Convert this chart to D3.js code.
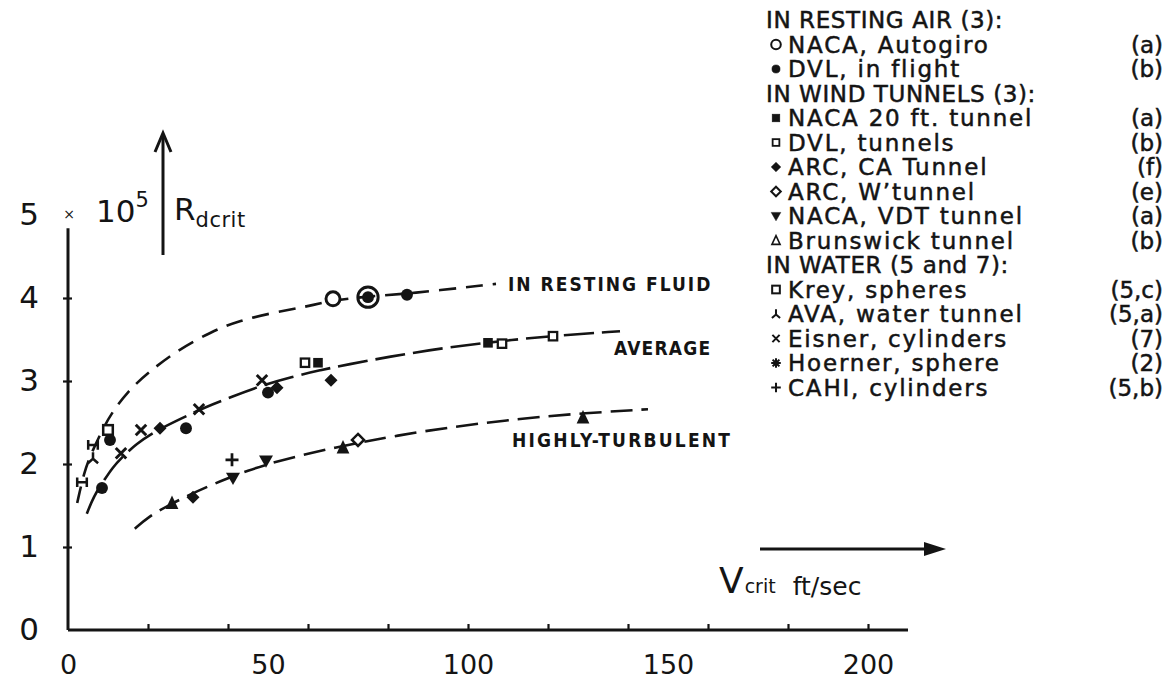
<!DOCTYPE html>
<html>
<head>
<meta charset="utf-8">
<script src="https://cdn.jsdelivr.net/npm/d3@7"></script>
<style>
  body { margin: 0; background: #fff; }
  svg { display: block; }
</style>
</head>
<body>
<svg id="chart" width="1174" height="681"></svg>
<script>
// ---- axis ticks and labels ----
const xTickValues = [20, 40, 60, 80, 100, 120, 140, 160, 180, 200];
const xLabelValues = [0, 50, 100, 150, 200];
const yTickValues = [1, 2, 3, 4];
const yLabelValues = [0, 1, 2, 3, 4, 5];

// ---- fitted curves: [V crit (ft/sec), R dcrit (x 10^5)] ----
const restingFluidCurve = [[2.3,1.53],[4,1.9],[6,2.15],[9,2.45],[11,2.62],[15,2.88],[20,3.1],[27,3.36],[36,3.6],[43,3.73],[51,3.82],[59,3.89],[66,3.97],[75,4.02],[85,4.05],[107,4.17]];
const averageCurve = [[4.7,1.4],[6.5,1.62],[9,1.8],[11,1.95],[13.5,2.08],[17,2.24],[22,2.4],[28,2.54],[34,2.68],[41,2.81],[48,2.94],[56,3.05],[63,3.13],[70,3.2],[80,3.29],[94,3.4],[108,3.48],[120,3.54],[138,3.6]];
const turbulentCurve = [[16.7,1.22],[20,1.36],[25,1.5],[30,1.62],[35,1.73],[40,1.83],[45,1.92],[50,2.0],[57,2.09],[65,2.18],[72,2.25],[82,2.34],[95,2.44],[110,2.53],[125,2.6],[145,2.66]];

// ---- measurements ----
// in resting air
const nacaAutogiro = [[66.25,3.99],[75,4.01]];
const dvlFlight = [[75,4.01],[84.75,4.04],[8.5,1.71],[10.5,2.29],[29.5,2.43],[50,2.86]];
// in wind tunnels
const naca20ft = [[62.5,3.22],[105,3.46]];
const dvlTunnels = [[59.25,3.22],[108.5,3.45],[121.25,3.54]];
const arcCA = [[23,2.43],[52.25,2.92],[65.75,3.01],[31.25,1.6]];
const arcW = [[72.5,2.29]];
const nacaVDT = [[41.25,1.83],[49.5,2.04]];
const brunswick = [[26,1.53],[68.75,2.2],[128.75,2.56]];
// in water
const krey = [[10,2.41]];
const ava = [[3.5,1.78],[6.25,2.23]];
const eisner = [[13.25,2.13],[18.25,2.41],[32.75,2.66],[48.5,3.01]];
const hoerner = [[6.25,2.07]];
const cahi = [[41,2.05]];

// ---- legend rows: [symbol, name, reference] ----
const legendRows = [
  [null, "IN RESTING AIR (3):", ""],
  ["ring", "NACA, Autogiro", "(a)"],
  ["dot", "DVL, in flight", "(b)"],
  [null, "IN WIND TUNNELS (3):", ""],
  ["square", "NACA 20 ft. tunnel", "(a)"],
  ["smallBox", "DVL, tunnels", "(b)"],
  ["diamond", "ARC, CA Tunnel", "(f)"],
  ["diamondOpen", "ARC, W\u2019tunnel", "(e)"],
  ["triDown", "NACA, VDT tunnel", "(a)"],
  ["triUpOpen", "Brunswick tunnel", "(b)"],
  [null, "IN WATER (5 and 7):", ""],
  ["box", "Krey, spheres", "(5,c)"],
  ["ava", "AVA, water tunnel", "(5,a)"],
  ["cross", "Eisner, cylinders", "(7)"],
  ["star", "Hoerner, sphere", "(2)"],
  ["plus", "CAHI, cylinders", "(5,b)"]
];

const ink = "#141414";
const svg = d3.select("#chart");

const x = d3.scaleLinear().domain([0, 200]).range([68, 868]);
const y = d3.scaleLinear().domain([0, 5]).range([630, 215]);

// ---- symbol drawing ----
function drawGlyph(g, shape, s) {
  const sw = Math.max(1.8, s * 0.42);
  switch (shape) {
    case "ring":
      g.append("circle").attr("r", s).attr("fill", "#fff").attr("stroke", ink).attr("stroke-width", sw); break;
    case "bigRing":
      g.append("circle").attr("r", s * 1.45).attr("fill", "none").attr("stroke", ink).attr("stroke-width", sw); break;
    case "dot":
      g.append("circle").attr("r", s * 0.85).attr("fill", ink); break;
    case "square":
      g.append("rect").attr("x", -s * 0.8).attr("y", -s * 0.8).attr("width", s * 1.6).attr("height", s * 1.6).attr("fill", ink); break;
    case "smallBox":
      g.append("rect").attr("x", -s * 0.7).attr("y", -s * 0.7).attr("width", s * 1.4).attr("height", s * 1.4).attr("fill", "#fff").attr("stroke", ink).attr("stroke-width", sw * 0.9); break;
    case "box":
      g.append("rect").attr("x", -s * 0.8).attr("y", -s * 0.8).attr("width", s * 1.6).attr("height", s * 1.6).attr("fill", "#fff").attr("stroke", ink).attr("stroke-width", sw); break;
    case "diamond":
      g.append("path").attr("d", `M0,${-s}L${s},0L0,${s}L${-s},0Z`).attr("fill", ink); break;
    case "diamondOpen":
      g.append("path").attr("d", `M0,${-s}L${s},0L0,${s}L${-s},0Z`).attr("fill", "#fff").attr("stroke", ink).attr("stroke-width", sw); break;
    case "triDown":
      g.append("path").attr("d", `M${-s},${-s * 0.75}L${s},${-s * 0.75}L0,${s}Z`).attr("fill", ink); break;
    case "triUp":
      g.append("path").attr("d", `M${-s * 0.85},${s * 0.8}L${s * 0.85},${s * 0.8}L0,${-s}Z`).attr("fill", ink); break;
    case "triUpOpen":
      g.append("path").attr("d", `M${-s * 0.85},${s * 0.8}L${s * 0.85},${s * 0.8}L0,${-s}Z`).attr("fill", "none").attr("stroke", ink).attr("stroke-width", sw * 0.8); break;
    case "cross":
      g.append("path").attr("d", `M${-s * 0.75},${-s * 0.75}L${s * 0.75},${s * 0.75}M${s * 0.75},${-s * 0.75}L${-s * 0.75},${s * 0.75}`).attr("stroke", ink).attr("stroke-width", sw).attr("fill", "none"); break;
    case "plus":
      g.append("path").attr("d", `M${-s},0H${s}M0,${-s}V${s}`).attr("stroke", ink).attr("stroke-width", sw).attr("fill", "none"); break;
    case "star": {
      let d = "";
      for (let k = 0; k < 8; k++) {
        const a = k * Math.PI / 4;
        d += `M0,0L${(s * Math.cos(a)).toFixed(2)},${(s * Math.sin(a)).toFixed(2)}`;
      }
      g.append("path").attr("d", d).attr("stroke", ink).attr("stroke-width", sw).attr("fill", "none");
      g.append("circle").attr("r", s * 0.45).attr("fill", ink);
      break;
    }
    case "ibeam":
      g.append("path").attr("d", `M${-s * 0.8},${-s * 0.8}V${s * 0.8}M${s * 0.8},${-s * 0.8}V${s * 0.8}M${-s * 0.8},0H${s * 0.8}`).attr("stroke", ink).attr("stroke-width", sw).attr("fill", "none"); break;
    case "ava":
      g.append("path").attr("d", `M0,${-s}V${s * 0.1}L${-s * 0.85},${s * 0.85}M0,${s * 0.1}L${s * 0.85},${s * 0.85}`).attr("stroke", ink).attr("stroke-width", sw).attr("fill", "none"); break;
  }
}

// ---- axes ----
const xTicks = svg.append("g").attr("transform", `translate(0,${y(0)})`)
  .call(d3.axisBottom(x).tickValues(xTickValues).tickSize(-6).tickFormat(""));
xTicks.select(".domain").remove();
xTicks.selectAll("line").attr("stroke", ink).attr("stroke-width", 2.2);

const xLabels = svg.append("g").attr("transform", `translate(0,${y(0)})`)
  .call(d3.axisBottom(x).tickValues(xLabelValues).tickSize(0).tickFormat(d3.format("d")));
xLabels.select(".domain").remove();
xLabels.selectAll("text").attr("y", 34).attr("dy", "0.36em")
  .attr("font-family", "DejaVu Sans").attr("font-size", 27).attr("fill", ink);

const yTicks = svg.append("g").attr("transform", `translate(${x(0) + 4},0)`)
  .call(d3.axisLeft(y).tickValues(yTickValues).tickSize(9).tickFormat(""));
yTicks.select(".domain").remove();
yTicks.selectAll("line").attr("stroke", ink).attr("stroke-width", 2.2);

const yLabels = svg.append("g").attr("transform", `translate(${x(0)},0)`)
  .call(d3.axisLeft(y).tickValues(yLabelValues).tickSize(0).tickFormat(d3.format("d")));
yLabels.select(".domain").remove();
yLabels.selectAll("text").attr("x", -39).attr("dy", "0.32em").attr("text-anchor", "middle")
  .attr("font-family", "DejaVu Sans").attr("font-size", 31).attr("fill", ink);

// axis lines
svg.append("line").attr("x1", x(0)).attr("x2", x(0)).attr("y1", y(0)).attr("y2", y(4.84))
  .attr("stroke", ink).attr("stroke-width", 3);
svg.append("line").attr("x1", x(0)).attr("x2", x(210)).attr("y1", y(0)).attr("y2", y(0))
  .attr("stroke", ink).attr("stroke-width", 3);

// ---- axis titles ----
const titleFont = "DejaVu Sans";
svg.append("text").attr("x", x(0) + 1).attr("y", y(5) + 4).attr("text-anchor", "middle")
  .attr("font-family", titleFont).attr("font-size", 14).attr("fill", ink).text("\u00d7");
const tenPow = svg.append("text").attr("x", 96).attr("y", 222).attr("font-family", titleFont).attr("fill", ink);
tenPow.append("tspan").attr("font-size", 31).text("10");
tenPow.append("tspan").attr("font-size", 21).attr("dy", -15).text("5");

// up arrow for R
svg.append("line").attr("x1", 163).attr("x2", 163).attr("y1", 255).attr("y2", 135)
  .attr("stroke", ink).attr("stroke-width", 3);
svg.append("path").attr("d", "M155,152L163,133L171,152").attr("fill", "none")
  .attr("stroke", ink).attr("stroke-width", 3).attr("stroke-linejoin", "miter");
const rTitle = svg.append("text").attr("x", 174).attr("y", 220).attr("font-family", titleFont).attr("fill", ink);
rTitle.append("tspan").attr("font-size", 31).text("R");
rTitle.append("tspan").attr("font-size", 21).attr("dy", 7).attr("letter-spacing", 0.5).text("dcrit");

// right arrow for V
svg.append("line").attr("x1", 760).attr("x2", 932).attr("y1", 549).attr("y2", 549)
  .attr("stroke", ink).attr("stroke-width", 3);
svg.append("path").attr("d", "M924,542L946,549L924,556Z").attr("fill", ink);
const vTitle = svg.append("text").attr("x", 719).attr("y", 593).attr("font-family", titleFont).attr("fill", ink);
vTitle.append("tspan").attr("font-size", 36).text("V");
vTitle.append("tspan").attr("font-size", 19).attr("dx", 1).text("crit");
vTitle.append("tspan").attr("font-size", 25).attr("dx", 17).attr("dy", 2).text("ft/sec");

// ---- dashed curves ----
const line = d3.line().x(d => x(d[0])).y(d => y(d[1])).curve(d3.curveBasis);
svg.append("path").datum(restingFluidCurve).attr("d", line).attr("fill", "none")
  .attr("stroke", ink).attr("stroke-width", 2.6).attr("stroke-dasharray", "17,10");
svg.append("path").datum(averageCurve).attr("d", line).attr("fill", "none")
  .attr("stroke", ink).attr("stroke-width", 2.6).attr("stroke-dasharray", "30,8");
svg.append("path").datum(turbulentCurve).attr("d", line).attr("fill", "none")
  .attr("stroke", ink).attr("stroke-width", 2.6).attr("stroke-dasharray", "22,9");

// curve labels
const curveFont = "DejaVu Sans Condensed, DejaVu Sans";
function curveLabel(px, py, txt, spacing) {
  svg.append("text").attr("x", px).attr("y", py).attr("dy", "0.36em")
    .attr("font-family", curveFont).attr("font-weight", "bold").attr("font-size", 19)
    .attr("letter-spacing", spacing).attr("fill", ink).text(txt);
}
curveLabel(x(110), y(4.17), "IN RESTING FLUID", 2);
curveLabel(x(136.5), y(3.4), "AVERAGE", 1.2);
curveLabel(x(111), y(2.29), "HIGHLY-TURBULENT", 2.2);

// ---- data points ----
const plotSeries = [
  { data: nacaAutogiro, shape: "ring", size: 7 },
  { data: naca20ft, shape: "square", size: 6 },
  { data: dvlTunnels, shape: "smallBox", size: 6 },
  { data: arcCA, shape: "diamond", size: 6.5 },
  { data: arcW, shape: "diamondOpen", size: 6 },
  { data: nacaVDT, shape: "triDown", size: 7 },
  { data: brunswick, shape: "triUp", size: 7.5 },
  { data: krey, shape: "box", size: 6 },
  { data: ava, shape: "ibeam", size: 6 },
  { data: eisner, shape: "cross", size: 7 },
  { data: hoerner, shape: "ava", size: 6 },
  { data: cahi, shape: "plus", size: 6.5 },
  { data: dvlFlight, shape: "dot", size: 7 }
];
const key = d => d[0] + "|" + d[1];
const flightKeys = new Set(dvlFlight.map(key));
plotSeries.forEach(sr => {
  sr.data.forEach(d => {
    const g = svg.append("g").attr("transform", `translate(${x(d[0])},${y(d[1])})`);
    // an autogiro ring that coincides with a flight point is drawn enlarged around it
    const shape = (sr.shape === "ring" && flightKeys.has(key(d))) ? "bigRing" : sr.shape;
    drawGlyph(g, shape, sr.size);
  });
});

// ---- legend ----
const legend = svg.append("g").attr("font-family", "DejaVu Sans").attr("fill", ink)
  .attr("stroke", ink).attr("stroke-width", 0.5);
legendRows.forEach((r, i) => {
  const cy = 20 + 24.5 * i;
  if (r[0] === null) {
    legend.append("text").attr("x", 766).attr("y", cy).attr("dy", "0.36em")
      .attr("font-size", 23).attr("letter-spacing", 0.6).text(r[1]);
  } else {
    const g = legend.append("g").attr("transform", `translate(776,${cy})`).attr("stroke-width", null);
    drawGlyph(g, r[0], 4.8);
    legend.append("text").attr("x", 788).attr("y", cy).attr("dy", "0.36em")
      .attr("font-size", 23).attr("letter-spacing", 1.8).text(r[1]);
    legend.append("text").attr("x", 1163).attr("y", cy).attr("dy", "0.36em")
      .attr("text-anchor", "end").attr("font-size", 23).text(r[2]);
  }
});
</script>
</body>
</html>
